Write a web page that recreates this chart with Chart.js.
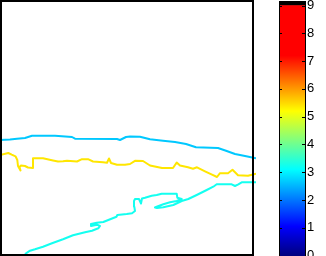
<!DOCTYPE html>
<html>
<head>
<meta charset="utf-8">
<script src="https://cdn.jsdelivr.net/npm/chart.js@4.4.1/dist/chart.umd.min.js"></script>
<style>
  html, body { margin: 0; padding: 0; background: #fff; overflow: hidden; }
  #plotBox { position: absolute; left: 0; top: 0; width: 256px; height: 256px; }
  #barBox { position: absolute; left: 279px; top: 0; width: 47px; height: 257px; }
</style>
</head>
<body>
<div id="plotBox"><canvas id="plot"></canvas></div>
<div id="barBox"><canvas id="colorbar"></canvas></div>
<script>
// contour lines (x, y in plot units, y down)
const upperX = [0, 10, 17, 25, 32, 55, 72, 75, 117, 120, 126, 130, 140, 150, 163, 175, 186, 196, 218, 226, 235, 245, 256];
const upperY = [140, 139.5, 138.7, 138, 135.7, 135.7, 137, 138.7, 139, 140, 137, 136.5, 136.7, 139.3, 140.7, 142, 144, 147.3, 148, 150.7, 154, 156, 158.3];

const yellowX = [0, 8.3, 11.7, 15.5, 17.3, 18, 20.5, 19.5, 21, 25, 28, 33, 33, 43, 53, 58, 63, 67, 77, 82, 88, 93, 103, 107, 109, 111, 117, 125, 130, 135, 143, 150, 162, 173, 176.7, 180, 188, 193, 197, 205, 212, 217, 220, 228, 232.5, 238, 248, 256];
const yellowY = [155, 153, 154.7, 156.3, 160, 166, 170.5, 167, 165.5, 166, 167.5, 168, 158.3, 158.3, 160.5, 161.5, 161.3, 160.7, 161.5, 159.2, 159.2, 161.5, 162.3, 162.7, 158.5, 163, 164.8, 164.7, 164, 160.8, 161, 165.5, 168, 168, 162.5, 165.5, 167.3, 168.7, 167.3, 171.3, 174.7, 177, 173.2, 173.2, 169.8, 175.3, 175.8, 173.6];

const lowerX = [24, 26, 30, 35, 43, 52, 63, 73, 85, 92, 98.3, 100, 97, 91, 91, 96.7, 103.3, 108.3, 116.5, 117.3, 126.7, 132, 135, 134.3, 134, 135, 139, 141, 142, 145, 151.7, 156.7, 161.7, 176.7, 177.3, 181.7, 176.7, 170, 163.3, 156.7, 155, 157, 163.3, 173.3, 181.7, 188.3, 196.7, 206.7, 213.3, 216.7, 231.7, 235, 238.3, 241.7, 256];
const lowerY = [256, 253.3, 250.7, 249.3, 246.7, 243.3, 239.3, 235.3, 232.3, 230.7, 228.3, 226, 224.7, 226, 224, 222.7, 222, 220, 216.7, 215, 214, 213.3, 211, 206.7, 201, 199, 199, 203.5, 198.5, 197.7, 195.7, 195, 193.7, 193.7, 197.7, 199, 201, 202.3, 204.3, 206.7, 207.5, 208, 207.3, 205, 201, 199, 195, 190, 186.7, 184.3, 184.3, 186, 184.3, 182.3, 182.3];

// colour bar
const tickValues = [0, 1, 2, 3, 4, 5, 6, 7, 8, 9];
const cbStops = [0, 1.05, 3.1, 5.2, 7.2, 9];
const cbColors = ['#000080', '#0000ff', '#00ffff', '#ffff00', '#ff0000', '#ff0000'];
const cbMin = -0.054;
const cbTop = 9.162;

function toPoints(xs, ys) {
    return xs.map((x, i) => ({ x: x, y: ys[i] }));
}

function lineSet(xs, ys, color) {
    return {
        data: toPoints(xs, ys),
        showLine: true,
        borderColor: color,
        borderWidth: 2,
        borderJoinStyle: 'round',
        pointRadius: 0,
        tension: 0
    };
}

// black frame round the plot
const frame = {
    id: 'frame',
    afterDraw(chart) {
        const ctx = chart.ctx;
        ctx.save();
        ctx.strokeStyle = '#000';
        ctx.lineWidth = 2;
        ctx.strokeRect(1, 1, 252, 254);
        ctx.restore();
    }
};

new Chart(document.getElementById('plot'), {
    type: 'scatter',
    data: {
        datasets: [
            lineSet(upperX, upperY, 'rgb(0,200,255)'),
            lineSet(yellowX, yellowY, 'rgb(255,230,0)'),
            lineSet(lowerX, lowerY, 'rgb(20,255,240)')
        ]
    },
    options: {
        responsive: true,
        maintainAspectRatio: false,
        animation: false,
        layout: { padding: 0 },
        plugins: { legend: { display: false }, tooltip: { enabled: false } },
        scales: {
            x: { type: 'linear', min: 0, max: 256, display: false },
            y: { type: 'linear', min: 0, max: 256, reverse: true, display: false }
        }
    },
    plugins: [frame]
});

// gradient for the colour bar, built from the stops
function barGradient(context) {
    const chart = context.chart;
    if (!chart.chartArea) return '#fff';
    const y = chart.scales.y;
    const y0 = y.getPixelForValue(0);
    const y9 = y.getPixelForValue(9);
    const g = chart.ctx.createLinearGradient(0, y0, 0, y9);
    cbStops.forEach((s, i) => g.addColorStop(s / 9, cbColors[i]));
    return g;
}

// frame and small inside ticks of the colour bar
const barFrame = {
    id: 'barFrame',
    afterDraw(chart) {
        const ctx = chart.ctx;
        const a = chart.chartArea;
        const y = chart.scales.y;
        ctx.save();
        ctx.strokeStyle = '#000';
        ctx.lineWidth = 1;
        ctx.strokeRect(a.left + 0.5, a.top + 0.5, a.right - a.left - 1, a.bottom - a.top);
        ctx.beginPath();
        tickValues.forEach(v => {
            const py = Math.round(y.getPixelForValue(v)) + 0.5;
            ctx.moveTo(a.left, py);
            ctx.lineTo(a.left + 3, py);
            ctx.moveTo(a.right - 4, py);
            ctx.lineTo(a.right, py);
        });
        ctx.stroke();
        ctx.restore();
    }
};

new Chart(document.getElementById('colorbar'), {
    type: 'bar',
    data: {
        labels: [''],
        datasets: [
            { data: [[cbMin, 9]], backgroundColor: barGradient, borderWidth: 0, grouped: false, categoryPercentage: 1, barPercentage: 1 },
            { data: [[9, cbTop]], backgroundColor: '#000', borderWidth: 0, grouped: false, categoryPercentage: 1, barPercentage: 1 }
        ]
    },
    options: {
        responsive: true,
        maintainAspectRatio: false,
        animation: false,
        layout: { padding: { top: 1, left: 0, right: 0, bottom: 0 } },
        plugins: { legend: { display: false }, tooltip: { enabled: false } },
        scales: {
            x: { display: false },
            y: {
                position: 'right',
                min: cbMin,
                max: cbTop,
                afterBuildTicks: scale => { scale.ticks = tickValues.map(v => ({ value: v })); },
                afterFit: scale => {
                    scale.width = 20;
                    scale.paddingTop = 0;
                    scale.paddingBottom = 0;
                },
                grid: { display: false, drawTicks: false },
                border: { display: false },
                ticks: {
                    padding: 1,
                    color: '#000',
                    font: { family: 'Liberation Sans', size: 13 }
                }
            }
        }
    },
    plugins: [barFrame]
});
</script>
</body>
</html>
